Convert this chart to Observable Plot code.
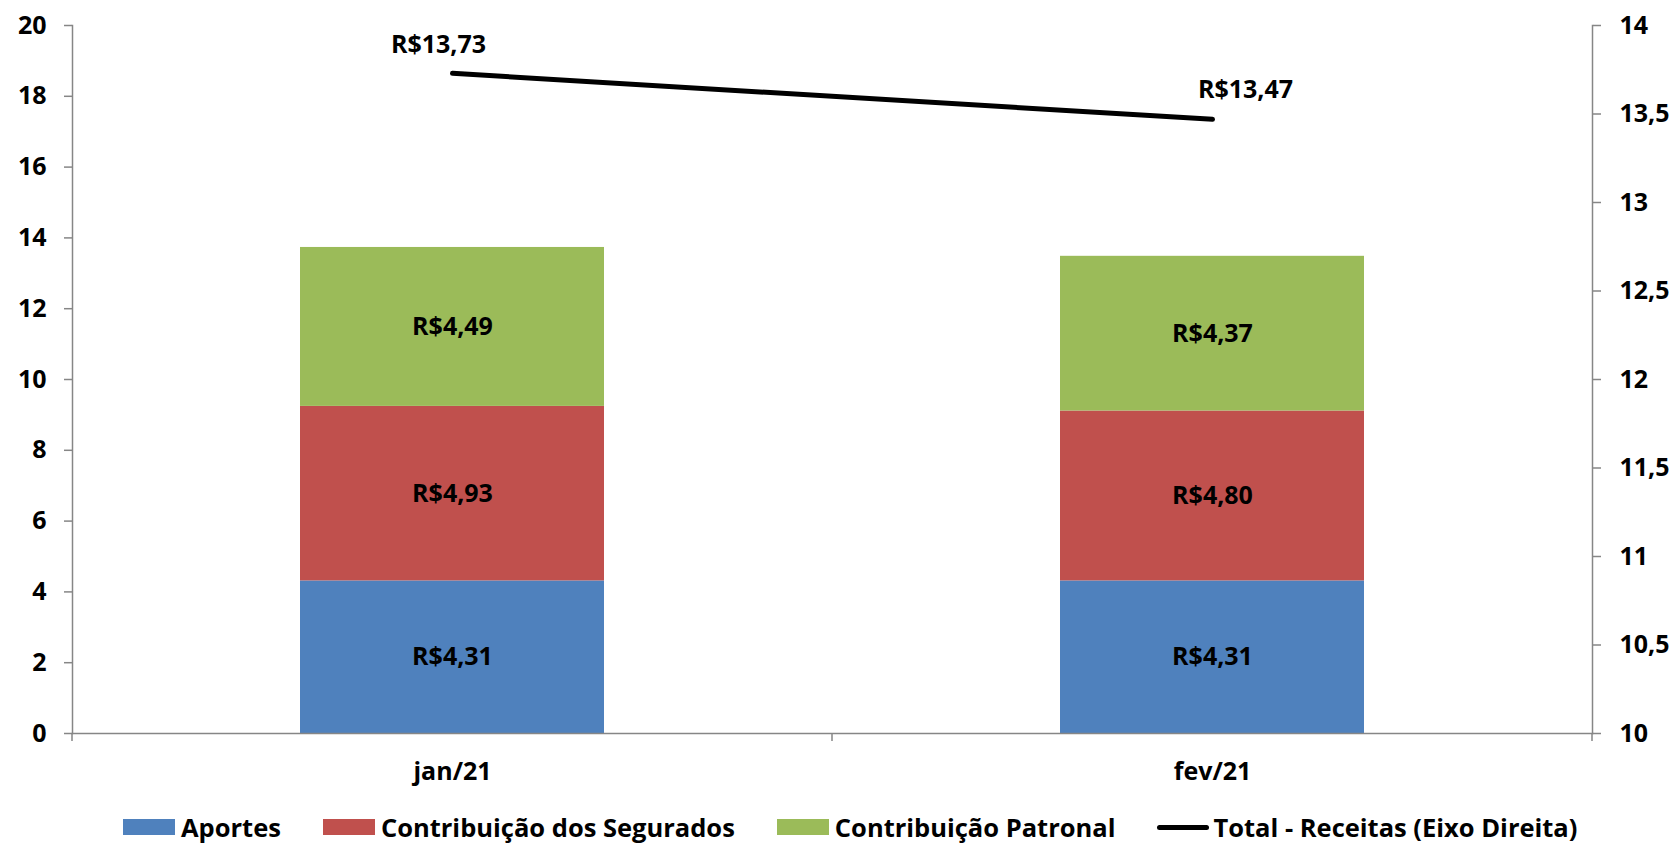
<!DOCTYPE html>
<html><head><meta charset="utf-8">
<script src="https://cdn.jsdelivr.net/npm/d3@7"></script>
<script src="https://cdn.jsdelivr.net/npm/@observablehq/plot@0.6"></script>
<style>
body{margin:0;background:#fff;font-family:"Open Sans",sans-serif;}
#chart svg{display:block;}
#legend{display:flex;align-items:center;height:46px;padding-left:123px;padding-top:8px;box-sizing:border-box;font-weight:700;font-size:25.5px;color:#000;font-family:"Open Sans",sans-serif;}
.item{display:flex;align-items:center;margin-right:42px;}
.sw{width:52px;height:16px;margin-right:6px;}
.ln{width:52px;height:5px;border-radius:3px;background:#000;margin-right:4px;}
</style></head><body>
<div id="chart"></div><div id="legend"></div>
<script>
const months = ["jan/21", "fev/21"];
const aportes = [4.31, 4.31];
const segurados = [4.93, 4.80];
const patronal = [4.49, 4.37];
const totals = [13.73, 13.47];
const seriesNames = ["Aportes", "Contribuição dos Segurados", "Contribuição Patronal"];
const seriesColors = ["#4F81BD", "#C0504D", "#9BBB59"];
const lineName = "Total - Receitas (Eixo Direita)";
const leftTicks = [0, 2, 4, 6, 8, 10, 12, 14, 16, 18, 20];
const rightTicks = [10, 10.5, 11, 11.5, 12, 12.5, 13, 13.5, 14];
const leftDomain = [0, 20];
const rightDomain = [10, 14];

const seriesArrays = [aportes, segurados, patronal];
const rows = [];
months.forEach((m, i) => seriesArrays.forEach((arr, j) => rows.push({month: m, series: seriesNames[j], value: arr[i]})));
const totalRows = months.map((m, i) => ({month: m, total: totals[i]}));

const k = (leftDomain[1] - leftDomain[0]) / (rightDomain[1] - rightDomain[0]);
const toLeft = v => leftDomain[0] + (v - rightDomain[0]) * k;
const fromLeft = v => rightDomain[0] + (v - leftDomain[0]) / k;
const money = v => "R$" + v.toFixed(2).replace(".", ",");
const num = v => String(+v.toFixed(2)).replace(".", ",");
const GREY = "#868686";

const boundaryTicks = (index, scales, values, dims) => {
  const x = scales.x, y = scales.y;
  const bw = x.bandwidth ? x.bandwidth() : 0;
  const centers = months.map(m => x(m) + bw / 2);
  const st = centers.length > 1 ? centers[1] - centers[0] : bw;
  const bounds = [centers[0] - st / 2, ...centers.map(c => c + st / 2)];
  const y0 = y(leftDomain[0]);
  const g = d3.create("svg:g").attr("stroke", GREY).attr("stroke-width", 1.5);
  bounds.forEach(b => g.append("line").attr("x1", b).attr("x2", b).attr("y1", y0).attr("y2", y0 + 8));
  return g.node();
};

const plot = Plot.plot({
  width: 1676, height: 800,
  marginLeft: 72, marginRight: 84, marginTop: 25, marginBottom: 67,
  style: {fontFamily: "Open Sans, sans-serif", fontSize: "25px", fontWeight: 700, color: "#000", background: "#fff", overflow: "visible"},
  x: {domain: months, paddingInner: 0.6, paddingOuter: 0.3, axis: null, label: null},
  y: {domain: leftDomain, axis: null, label: null},
  color: {domain: seriesNames, range: seriesColors},
  marks: [
    Plot.barY(rows, {x: "month", y: "value", fill: "series"}),
    Plot.text(rows, Plot.stackY({x: "month", y: "value", text: d => money(d.value), fill: "#000", fontSize: 25, fontWeight: 700})),
    Plot.frame({anchor: "left", stroke: GREY, strokeWidth: 1.5}),
    Plot.frame({anchor: "right", stroke: GREY, strokeWidth: 1.5}),
    Plot.frame({anchor: "bottom", stroke: GREY, strokeWidth: 1.5}),
    boundaryTicks,
    Plot.axisY({ticks: leftTicks, tickSize: 8, tickPadding: 18, stroke: GREY, fill: "#000", strokeWidth: 1.5, fontSize: 25, fontWeight: 700, label: null, tickFormat: d => String(d)}),
    Plot.axisY({anchor: "right", ticks: rightTicks.map(toLeft), tickSize: 8, tickPadding: 19, stroke: GREY, fill: "#000", strokeWidth: 1.5, fontSize: 25, fontWeight: 700, label: null, tickFormat: d => num(fromLeft(d))}),
    Plot.axisX({tickSize: 0, tickPadding: 29, fill: "#000", fontSize: 25, fontWeight: 700, label: null}),
    Plot.line(totalRows, {x: "month", y: d => toLeft(d.total), stroke: "#000", strokeWidth: 5, strokeLinecap: "round"}),
    Plot.text(totalRows, {filter: (d, i) => i === 0, x: "month", y: d => toLeft(d.total), text: d => money(d.total), dx: -14, dy: -28, fill: "#000", fontSize: 25, fontWeight: 700}),
    Plot.text(totalRows, {filter: (d, i) => i === 1, x: "month", y: d => toLeft(d.total), text: d => money(d.total), dx: 33, dy: -29, fill: "#000", fontSize: 25, fontWeight: 700})
  ]
});
document.getElementById("chart").appendChild(plot);

const legend = d3.select("#legend");
seriesNames.forEach((s, i) => {
  const it = legend.append("div").attr("class", "item");
  it.append("div").attr("class", "sw").style("background", seriesColors[i]);
  it.append("span").text(s);
});
const li = legend.append("div").attr("class", "item");
li.append("div").attr("class", "ln");
li.append("span").text(lineName);
</script>
</body></html>
